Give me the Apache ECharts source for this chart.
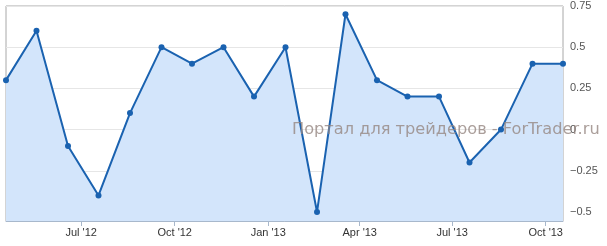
<!DOCTYPE html>
<html>
<head>
<meta charset="utf-8">
<script src="https://cdn.jsdelivr.net/npm/echarts@6/dist/echarts.min.js"></script>
<style>
html,body{margin:0;padding:0;background:#fff;}
#c{width:607px;height:246px;}
</style>
</head>
<body>
<div id="c"></div>
<script>
// Data
const dates = ['2012-04-18','2012-05-18','2012-06-18','2012-07-18','2012-08-18','2012-09-18','2012-10-18','2012-11-18','2012-12-18','2013-01-18','2013-02-18','2013-03-18','2013-04-18','2013-05-18','2013-06-18','2013-07-18','2013-08-18','2013-09-18','2013-10-18'];
const values = [0.3, 0.6, -0.1, -0.4, 0.1, 0.5, 0.4, 0.5, 0.2, 0.5, -0.5, 0.7, 0.3, 0.2, 0.2, -0.2, 0.0, 0.4, 0.4];
const xTickDates = ['2012-07-01','2012-10-01','2013-01-01','2013-04-01','2013-07-01','2013-10-01'];
const yTicks = [-0.5, -0.25, 0, 0.25, 0.5, 0.75];
const watermark = 'Портал для трейдеров - ForTrader.ru';

const monthNames = ['Jan','Feb','Mar','Apr','May','Jun','Jul','Aug','Sep','Oct','Nov','Dec'];
const toTs = s => { const p = s.split('-').map(Number); return Date.UTC(p[0], p[1]-1, p[2]); };
const seriesData = dates.map((d, i) => [toTs(d), values[i]]);
const xTicks = xTickDates.map(toTs);

const chart = echarts.init(document.getElementById('c'), null, {renderer: 'canvas'});
chart.setOption({
  animation: false,
  grid: {left: 6, right: 44, top: 6, bottom: 25, show: true, borderColor: '#a8a8a8', borderWidth: 1, backgroundColor: 'transparent'},
  xAxis: {
    type: 'value',
    min: seriesData[0][0],
    max: seriesData[seriesData.length-1][0],
    axisLine: {show: true, onZero: false, lineStyle: {color: '#a8b8cc'}},
    axisTick: {show: true, customValues: xTicks, length: 5, lineStyle: {color: '#a8b8cc'}},
    axisLabel: {
      customValues: xTicks,
      color: '#333',
      fontSize: 11,
      fontFamily: 'Liberation Sans, Arial, sans-serif',
      margin: 6,
      formatter: v => { const d = new Date(v); return monthNames[d.getUTCMonth()] + " '" + String(d.getUTCFullYear()).slice(2); }
    },
    splitLine: {show: false}
  },
  yAxis: {
    type: 'value',
    position: 'right',
    min: -0.555,
    max: 0.75,
    axisLine: {show: false},
    axisTick: {show: false, customValues: yTicks},
    axisLabel: {
      customValues: yTicks,
      color: '#555',
      fontSize: 11,
      fontFamily: 'Liberation Sans, Arial, sans-serif',
      margin: 7,
      formatter: v => (v < 0 ? '\u2212' + String(-v) : String(v))
    },
    splitLine: {show: true, lineStyle: {color: '#e6e6e6', width: 1}}
  },
  series: [{
    type: 'line',
    data: seriesData,
    symbol: 'circle',
    symbolSize: 6,
    showAllSymbol: true,
    lineStyle: {color: '#1a62b0', width: 2},
    itemStyle: {color: '#1a62b0'},
    areaStyle: {color: '#d3e5fb', opacity: 1, origin: 'start'},
    clip: false
  }],
  graphic: [{
    type: 'text',
    left: 292,
    top: 122,
    z: 100,
    style: {
      text: watermark,
      fill: 'rgba(150,135,130,0.8)',
      font: '16.2px "DejaVu Sans", sans-serif'
    }
  }]
});
</script>
</body>
</html>
